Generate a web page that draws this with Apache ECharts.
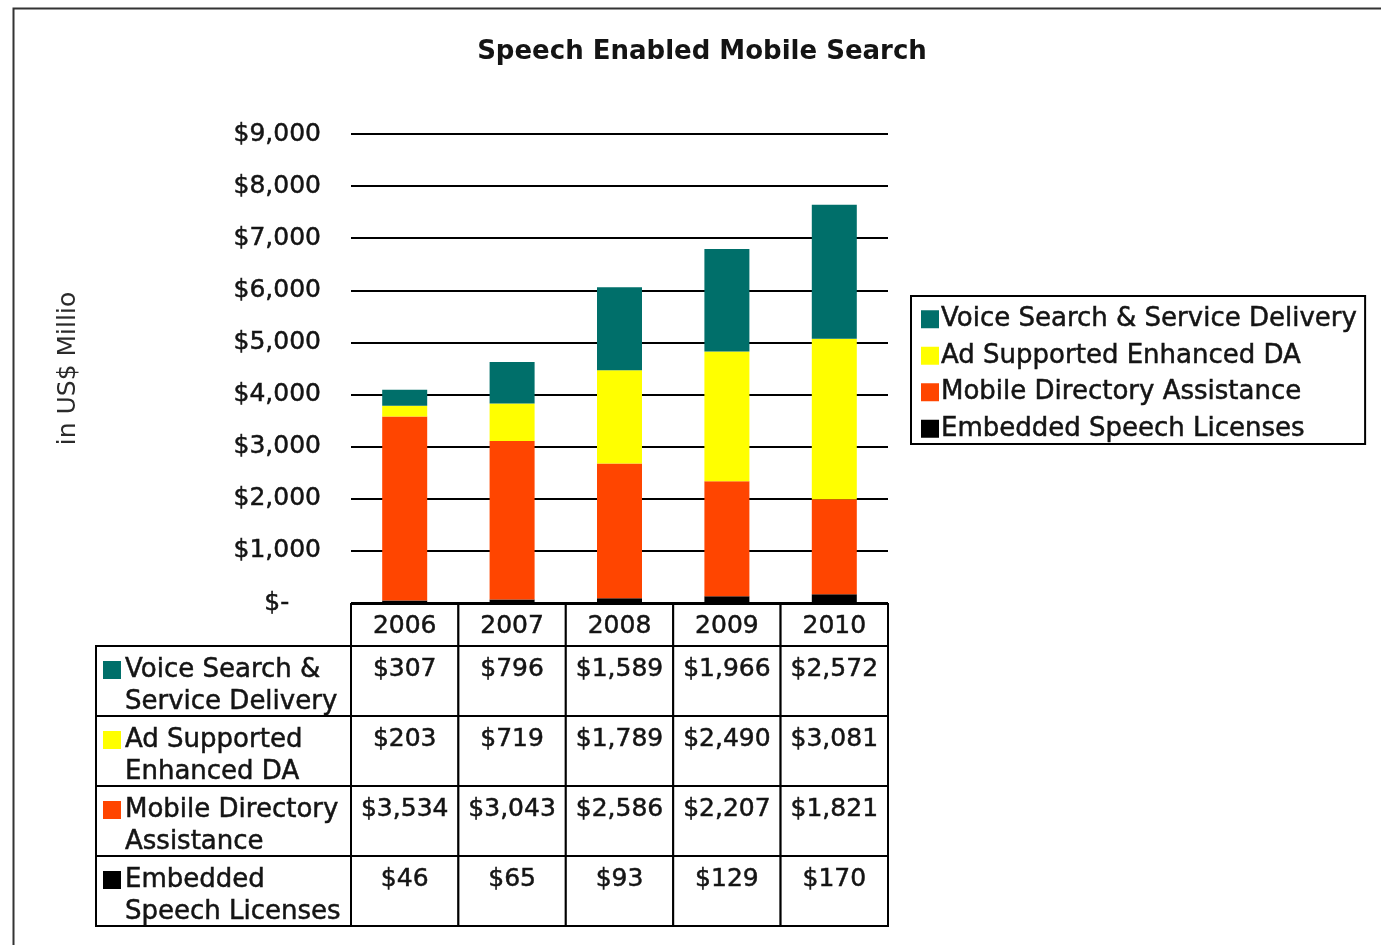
<!DOCTYPE html>
<html>
<head>
<meta charset="utf-8">
<title>Speech Enabled Mobile Search</title>
<script src="https://cdn.jsdelivr.net/npm/echarts@6/dist/echarts.min.js"></script>
<style>
  html, body { margin: 0; padding: 0; background: #fff; }
  #chart { width: 1381px; height: 945px; }
</style>
</head>
<body>
<div id="chart"></div>
<script>
const years = ['2006', '2007', '2008', '2009', '2010'];
const voiceSearch = [307, 796, 1589, 1966, 2572];
const adSupported = [203, 719, 1789, 2490, 3081];
const mobileDA = [3534, 3043, 2586, 2207, 1821];
const embedded = [46, 65, 93, 129, 170];

const seriesNames = [
  'Voice Search & Service Delivery',
  'Ad Supported Enhanced DA',
  'Mobile Directory Assistance',
  'Embedded Speech Licenses'
];
const tableLabels = [
  'Voice Search &\nService Delivery',
  'Ad Supported\nEnhanced DA',
  'Mobile Directory\nAssistance',
  'Embedded\nSpeech Licenses'
];
const colors = ['#006f6a', '#ffff00', '#ff4500', '#000000'];

const FONT = '"DejaVu Sans", Verdana, sans-serif';
const TEXT = '#141414';
const HALO = 0.5; // slight stroke so the text reads as heavy as the scan
const labelColW = 255;
const headerH = 42;

const money = v => '$' + v.toLocaleString('en-US');

const rows = [voiceSearch, adSupported, mobileDA, embedded];
const cellData = [];
rows.forEach((vals, r) => vals.forEach((v, c) => cellData.push([c, r, v])));

function cellBox(api, c, r) {
  const center = api.coord([c, r]);
  const size = api.size([1, 1]);
  return { cx: center[0], x: center[0] - size[0] / 2, y: center[1] - size[1] / 2, w: size[0], h: size[1] };
}

function cellText(text, x, y, size) {
  return {
    type: 'text', x: x, y: y,
    style: {
      text: text, fontFamily: FONT, fontSize: size, lineHeight: 32, fill: TEXT,
      stroke: TEXT, lineWidth: HALO
    }
  };
}

const chart = echarts.init(document.getElementById('chart'));

const option = {
  backgroundColor: '#fff',
  animation: false,
  title: {
    text: 'Speech Enabled Mobile Search',
    left: 697,
    top: 34,
    textAlign: 'center',
    textStyle: { fontFamily: FONT, fontWeight: 'bold', fontSize: 26, color: TEXT }
  },
  legend: {
    orient: 'vertical',
    left: 911,
    top: 296,
    data: seriesNames,
    itemWidth: 18,
    itemHeight: 18,
    itemGap: 10,
    borderColor: '#000',
    borderWidth: 2,
    padding: [10, 8, 2, 10],
    icon: 'rect',
    textStyle: {
      fontFamily: FONT, fontSize: 26, color: TEXT, padding: [0, 0, 0, -3],
      textBorderColor: TEXT, textBorderWidth: HALO
    }
  },
  grid: [
    { left: 351, right: 493, top: 134, bottom: 342 },
    { left: 351, right: 493, top: 646, bottom: 19 }
  ],
  xAxis: [
    {
      type: 'category', data: years, gridIndex: 0,
      axisLine: { show: false }, axisTick: { show: false }, axisLabel: { show: false }
    },
    {
      type: 'category', data: years, gridIndex: 1, show: false
    }
  ],
  yAxis: [
    {
      type: 'value', gridIndex: 0, min: 0, max: 9000, interval: 1000,
      name: 'in US$ Millio',
      nameLocation: 'middle',
      nameGap: 270,
      nameTextStyle: { fontFamily: FONT, fontSize: 25, color: '#2a2a2a' },
      axisLine: { show: false }, axisTick: { show: false },
      axisLabel: {
        margin: 30,
        fontFamily: FONT, fontSize: 25, color: TEXT,
        textBorderColor: TEXT, textBorderWidth: HALO,
        formatter: v => v === 0 ? '$-    ' : money(v)
      },
      splitLine: { lineStyle: { color: '#000', width: 2 } }
    },
    {
      type: 'category', gridIndex: 1, data: tableLabels, inverse: true, show: false
    }
  ],
  series: [
    { name: seriesNames[3], type: 'bar', stack: 'total', data: embedded, barWidth: 45, itemStyle: { color: colors[3] } },
    { name: seriesNames[2], type: 'bar', stack: 'total', data: mobileDA, barWidth: 45, itemStyle: { color: colors[2] } },
    { name: seriesNames[1], type: 'bar', stack: 'total', data: adSupported, barWidth: 45, itemStyle: { color: colors[1] } },
    { name: seriesNames[0], type: 'bar', stack: 'total', data: voiceSearch, barWidth: 45, itemStyle: { color: colors[0] } },
    {
      // value cells of the data table
      type: 'custom', xAxisIndex: 1, yAxisIndex: 1, silent: true,
      data: cellData,
      encode: { x: 0, y: 1 },
      renderItem: (params, api) => {
        const b = cellBox(api, api.value(0), api.value(1));
        const t = cellText(money(api.value(2)), b.cx, b.y + 7, 25);
        t.style.align = 'center';
        t.style.verticalAlign = 'top';
        return {
          type: 'group',
          children: [
            { type: 'rect', shape: { x: b.x, y: b.y, width: b.w, height: b.h },
              style: { fill: '#fff', stroke: '#000', lineWidth: 2 } },
            t
          ]
        };
      }
    },
    {
      // year header row
      type: 'custom', xAxisIndex: 1, yAxisIndex: 1, silent: true,
      data: years.map((y, c) => [c, 0]),
      encode: { x: 0, y: 1 },
      renderItem: (params, api) => {
        const c = api.value(0);
        const b = cellBox(api, c, 0);
        const t = cellText(years[c], b.cx, b.y - headerH / 2 + 1, 25);
        t.style.align = 'center';
        t.style.verticalAlign = 'middle';
        return {
          type: 'group',
          children: [
            { type: 'rect', shape: { x: b.x, y: b.y - headerH, width: b.w, height: headerH },
              style: { fill: '#fff', stroke: '#000', lineWidth: 2 } },
            t
          ]
        };
      }
    },
    {
      // series label column
      type: 'custom', xAxisIndex: 1, yAxisIndex: 1, silent: true,
      data: tableLabels.map((t, r) => [0, r]),
      encode: { x: 0, y: 1 },
      renderItem: (params, api) => {
        const r = api.value(1);
        const b = cellBox(api, 0, r);
        const x0 = b.x - labelColW;
        const t = cellText(tableLabels[r], x0 + 29, b.y + 8, 26);
        t.style.align = 'left';
        t.style.verticalAlign = 'top';
        return {
          type: 'group',
          children: [
            { type: 'rect', shape: { x: x0, y: b.y, width: labelColW, height: b.h },
              style: { fill: '#fff', stroke: '#000', lineWidth: 2 } },
            { type: 'rect', shape: { x: x0 + 7, y: b.y + 15, width: 18, height: 18 },
              style: { fill: colors[r] } },
            t
          ]
        };
      }
    }
  ],
  graphic: [
    {
      type: 'rect', left: 11, top: 6, silent: true,
      shape: { width: 1400, height: 960 },
      style: { fill: 'none', stroke: '#333', lineWidth: 2 }
    }
  ]
};

chart.setOption(option);
</script>
</body>
</html>
